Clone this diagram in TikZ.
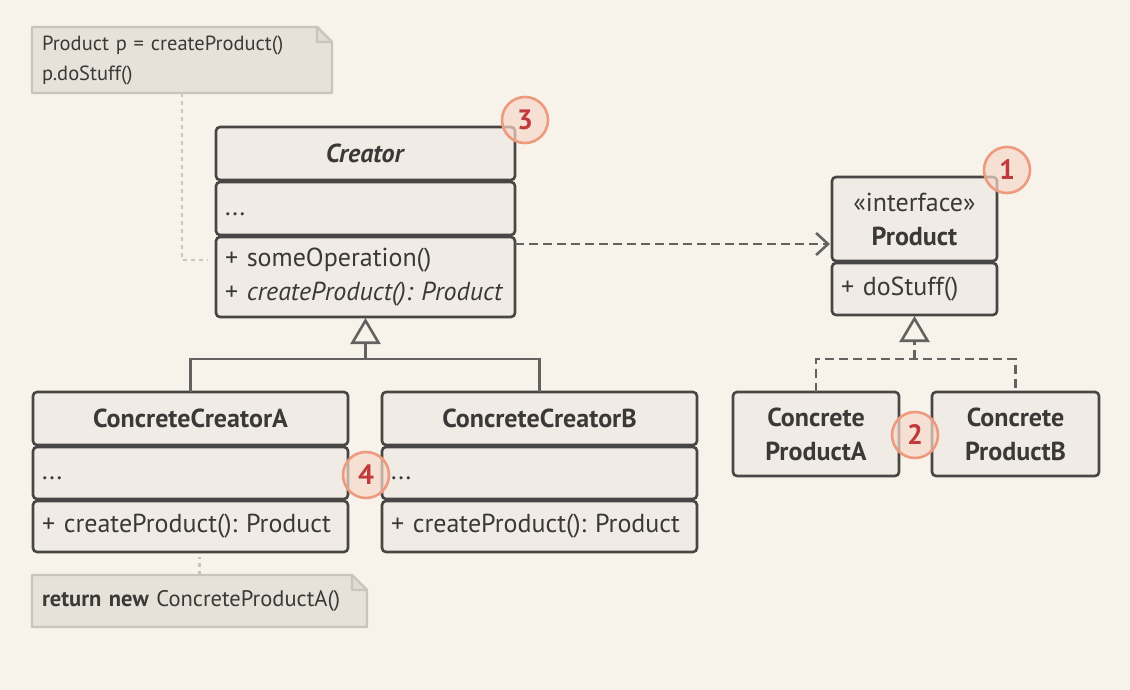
\documentclass[tikz,border=0pt]{standalone}
\usepackage{fontspec}
\setmainfont{PT Sans}
\usetikzlibrary{positioning,arrows.meta,backgrounds}
\definecolor{paper}{HTML}{F7F3EA}
\definecolor{boxfill}{HTML}{F0ECE5}
\definecolor{boxline}{HTML}{474644}
\definecolor{ink}{HTML}{3A3937}
\definecolor{notefill}{HTML}{E6E2DA}
\definecolor{noteline}{HTML}{C9C5BD}
\definecolor{badgefill}{HTML}{F6D8CB}
\definecolor{badgeline}{HTML}{EE9A7E}
\definecolor{badgeink}{HTML}{C0393B}
\newcommand\notepaper[1]{%
\filldraw[noteedge] (#1.north west) -- ([xshift=-15pt]#1.north east) -- ([yshift=-15pt]#1.north east) -- (#1.south east) -- (#1.south west) -- cycle;
\filldraw[noteedge,fill=noteline!60] ([xshift=-15pt]#1.north east) |- ([yshift=-15pt]#1.north east) -- cycle;}
\frenchspacing

\begin{document}
\begin{tikzpicture}[x=1pt,y=-1pt,
part/.style={draw=boxline,fill=boxfill,line width=2.6pt,rounded corners=4pt,inner xsep=9pt,inner ysep=0pt,outer sep=0pt,text=ink,font=\fontsize{26}{34}\selectfont},
head/.style={part,align=center},
body/.style={part,align=left},
notetext/.style={inner xsep=10pt,inner ysep=0pt,outer sep=0pt,align=left,text=ink,font=\fontsize{20.5}{30}\selectfont},
noteedge/.style={draw=noteline,fill=notefill,line width=2.4pt,line join=round},
badge/.style={circle,draw=badgeline,line width=2.6pt,fill=badgefill,fill opacity=0.7,text opacity=1,text=badgeink,font=\fontsize{28}{28}\selectfont\bfseries,minimum size=46pt,inner sep=0pt},
solidlink/.style={draw=boxline!85,line width=2.6pt},
dashlink/.style={solidlink,dash pattern=on 9pt off 5pt},
notelink/.style={draw=noteline,line width=2.4pt,dash pattern=on 4pt off 4pt},
uptri/.style={-{Triangle[open,length=26pt,width=30pt]},shorten >=1pt}]

\begin{scope}[on background layer]
\fill[paper] (0,0) rectangle (1130,690);
\end{scope}

\node[notetext,text width=280pt,minimum height=66pt,anchor=north west] (note1) at (32,27) {Product p = createProduct()\\p.doStuff()};

\node[head,text width=281pt,minimum height=53pt,anchor=north west] (creatorHead) at (216,127) {\textbf{\textit{Creator}}};
\node[body,text width=281pt,minimum height=53pt,below=2pt of creatorHead] (creatorAttr) {\strut...};
\node[body,text width=281pt,minimum height=80pt,below=2pt of creatorAttr] (creatorOps) {+ someOperation()\\+ \textit{createProduct(): Product}};

\node[head,text width=147pt,minimum height=84pt,anchor=north west] (productHead) at (832,177) {«interface»\\\textbf{Product}};
\node[body,text width=147pt,minimum height=52pt,below=2pt of productHead] (productOps) {+ doStuff()};

\node[head,text width=148pt,minimum height=84pt,anchor=north west] (productA) at (733,392) {\textbf{Concrete}\\\textbf{ProductA}};
\node[head,text width=149pt,minimum height=84pt,right=33pt of productA] (productB) {\textbf{Concrete}\\\textbf{ProductB}};

\node[head,text width=297pt,minimum height=53pt,anchor=north west] (creatorAHead) at (33,392) {\textbf{ConcreteCreatorA}};
\node[body,text width=297pt,minimum height=52pt,below=2pt of creatorAHead] (creatorAAttr) {\strut...};
\node[body,text width=297pt,minimum height=51pt,below=2pt of creatorAAttr] (creatorAOps) {+ createProduct(): Product};

\node[head,text width=297pt,minimum height=53pt,right=34pt of creatorAHead] (creatorBHead) {\textbf{ConcreteCreatorB}};
\node[body,text width=297pt,minimum height=52pt,below=2pt of creatorBHead] (creatorBAttr) {\strut...};
\node[body,text width=297pt,minimum height=51pt,below=2pt of creatorBAttr] (creatorBOps) {+ createProduct(): Product};

\node[notetext,text width=315pt,minimum height=52pt,anchor=north west,font=\fontsize{22.5}{30}\selectfont] (note2) at (32,575) {\mbox{\textbf{return new} ConcreteProductA()}};

\begin{scope}[on background layer]
\notepaper{note1}
\notepaper{note2}
\end{scope}

\coordinate (creatorJoin) at ([yshift=-42pt]creatorOps.south);
\coordinate (productJoin) at ([yshift=-44pt]productOps.south);
\coordinate (depStart) at ([yshift=-7pt]creatorOps.north east);

\draw[solidlink] (creatorAHead.north) |- (creatorJoin) -| (creatorBHead.north);
\draw[solidlink,uptri] (creatorJoin) -- (creatorOps.south);
\draw[dashlink] (productA.north) |- (productJoin) -| (productB.north);
\draw[dashlink,uptri] (productJoin) -- (productOps.south);
\draw[dashlink,-{Straight Barb[length=12pt,width=22pt]},shorten >=2pt] (depStart) -- (depStart -| productHead.west);

\draw[notelink] (note1.south) |- ([xshift=-8pt,yshift=17pt]creatorOps.west);
\draw[notelink,shorten >=5pt] (note2.north) -- (note2.north |- creatorAOps.south);

\node[badge] (badge3) at (525,120) {3};
\node[badge] (badge1) at (1007,170) {1};
\node[badge] (badge2) at (915,435) {2};
\node[badge] (badge4) at (366,475) {4};
\end{tikzpicture}
\end{document}
